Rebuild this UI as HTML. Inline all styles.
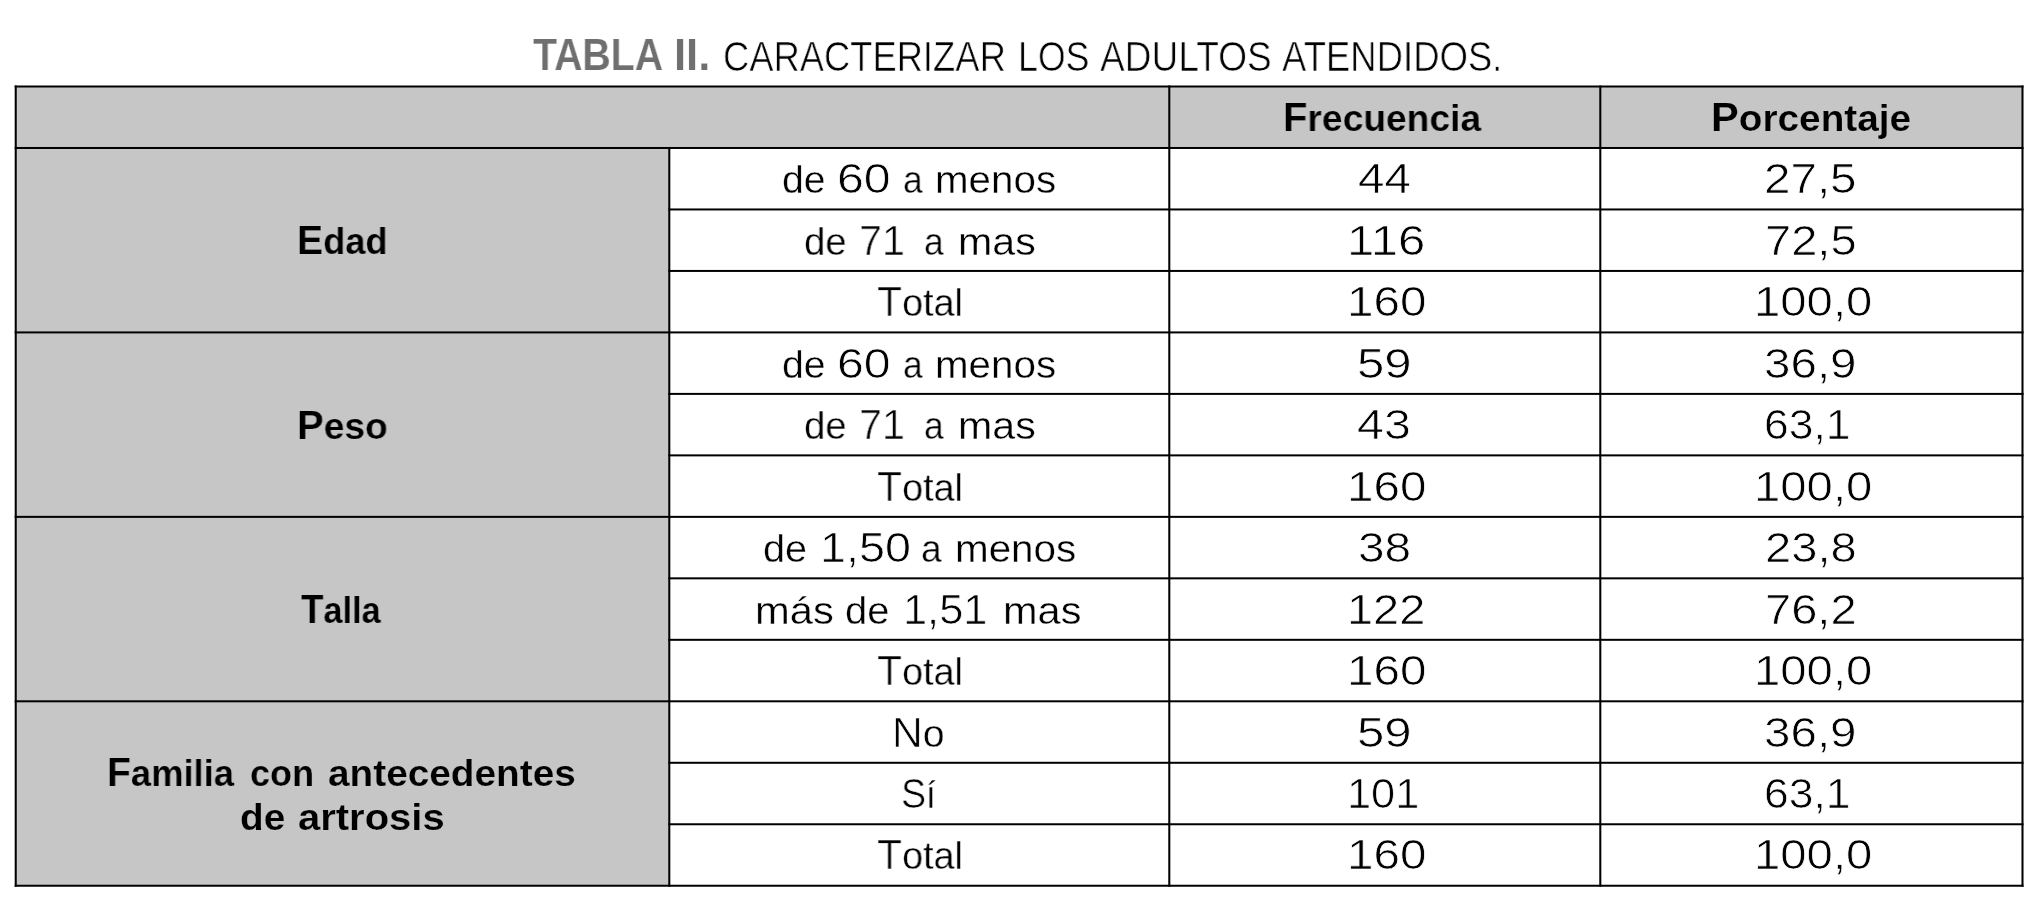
<!DOCTYPE html><html><head><meta charset="utf-8"><style>
html,body{margin:0;padding:0;background:#fff;width:2037px;height:909px;overflow:hidden;position:relative}
.t{position:absolute;white-space:nowrap;font-family:"Liberation Sans",sans-serif;transform-origin:0 0;will-change:transform}
.g{position:absolute;background:#c6c6c6}
.l{position:absolute;background:#000}
</style></head><body>
<svg style="position:absolute;left:0;top:0" width="2037" height="909"><rect x="15.72" y="86.5" width="2006.78" height="61.48" fill="#c6c6c6"/><rect x="15.72" y="147.98" width="653.58" height="737.76" fill="#c6c6c6"/><rect x="14.70" y="85.50" width="2008.83" height="2.0" fill="#000"/><rect x="14.70" y="146.98" width="2008.83" height="2.0" fill="#000"/><rect x="668.27" y="208.46" width="1355.25" height="2.0" fill="#000"/><rect x="668.27" y="269.94" width="1355.25" height="2.0" fill="#000"/><rect x="14.70" y="331.42" width="2008.83" height="2.0" fill="#000"/><rect x="668.27" y="392.90" width="1355.25" height="2.0" fill="#000"/><rect x="668.27" y="454.38" width="1355.25" height="2.0" fill="#000"/><rect x="14.70" y="515.86" width="2008.83" height="2.0" fill="#000"/><rect x="668.27" y="577.34" width="1355.25" height="2.0" fill="#000"/><rect x="668.27" y="638.82" width="1355.25" height="2.0" fill="#000"/><rect x="14.70" y="700.30" width="2008.83" height="2.0" fill="#000"/><rect x="668.27" y="761.78" width="1355.25" height="2.0" fill="#000"/><rect x="668.27" y="823.26" width="1355.25" height="2.0" fill="#000"/><rect x="14.70" y="884.74" width="2008.83" height="2.0" fill="#000"/><rect x="14.70" y="85.50" width="2.05" height="801.24" fill="#000"/><rect x="668.27" y="146.98" width="2.05" height="739.76" fill="#000"/><rect x="1168.27" y="85.50" width="2.05" height="801.24" fill="#000"/><rect x="1599.27" y="85.50" width="2.05" height="801.24" fill="#000"/><rect x="2021.47" y="85.50" width="2.05" height="801.24" fill="#000"/></svg>
<div class="t" style="left:533.20px;top:32.10px;font-size:43.6px;line-height:46px;font-weight:bold;color:#6f6f6f;-webkit-text-stroke:0.2px #fff;transform:scale(0.9004,1.0)">TABLA</div>
<div class="t" style="left:674.25px;top:32.10px;font-size:43.6px;line-height:46px;font-weight:bold;color:#6f6f6f;-webkit-text-stroke:0.2px #fff;transform:scale(1.0000,1.0)">II.</div>
<div class="t" style="left:723.44px;top:33.83px;font-size:42.5px;line-height:46px;font-weight:normal;color:#000;-webkit-text-stroke:0.35px #fff;transform:scale(0.8554,1.0)"><span style="-webkit-text-stroke-width:0.7px">CARACTERIZAR</span></div>
<div class="t" style="left:1017.58px;top:33.83px;font-size:42.5px;line-height:46px;font-weight:normal;color:#000;-webkit-text-stroke:0.35px #fff;transform:scale(0.8381,1.0)"><span style="-webkit-text-stroke-width:0.7px">LOS</span></div>
<div class="t" style="left:1099.82px;top:33.83px;font-size:42.5px;line-height:46px;font-weight:normal;color:#000;-webkit-text-stroke:0.35px #fff;transform:scale(0.8723,1.0)"><span style="-webkit-text-stroke-width:0.7px">ADULTOS</span></div>
<div class="t" style="left:1281.69px;top:33.83px;font-size:42.5px;line-height:46px;font-weight:normal;color:#000;-webkit-text-stroke:0.35px #fff;transform:scale(0.8586,1.0)"><span style="-webkit-text-stroke-width:0.7px">ATENDIDOS.</span></div>
<div class="t" style="left:1283.37px;top:93.80px;font-size:40.7px;line-height:46px;font-weight:bold;color:#000;-webkit-text-stroke:0.2px #c6c6c6;transform:scale(0.9828,1.0)">F<span style="font-size:0.93em">recuencia</span></div>
<div class="t" style="left:1710.50px;top:94.00px;font-size:40.7px;line-height:46px;font-weight:bold;color:#000;-webkit-text-stroke:0.2px #c6c6c6;transform:scale(1.0238,1.0)">P<span style="font-size:0.93em">orcentaje</span></div>
<div class="t" style="left:297.04px;top:216.80px;font-size:40.7px;line-height:46px;font-weight:bold;color:#000;-webkit-text-stroke:0.2px #c6c6c6;transform:scale(0.9603,1.0)">E<span style="font-size:0.93em">dad</span></div>
<div class="t" style="left:297.05px;top:401.80px;font-size:40.7px;line-height:46px;font-weight:bold;color:#000;-webkit-text-stroke:0.2px #c6c6c6;transform:scale(0.9825,1.0)">P<span style="font-size:0.93em">eso</span></div>
<div class="t" style="left:300.76px;top:585.80px;font-size:40.7px;line-height:46px;font-weight:bold;color:#000;-webkit-text-stroke:0.2px #c6c6c6;transform:scale(0.9039,1.0)">T<span style="font-size:0.93em">alla</span></div>
<div class="t" style="left:107.49px;top:748.50px;font-size:40.7px;line-height:46px;font-weight:bold;color:#000;-webkit-text-stroke:0.2px #c6c6c6;transform:scale(0.9618,1.0)">F<span style="font-size:0.93em">amilia</span></div>
<div class="t" style="left:249.70px;top:748.50px;font-size:40.7px;line-height:46px;font-weight:bold;color:#000;-webkit-text-stroke:0.2px #c6c6c6;transform:scale(0.9509,1.0)"><span style="font-size:0.93em">con</span></div>
<div class="t" style="left:327.90px;top:748.50px;font-size:40.7px;line-height:46px;font-weight:bold;color:#000;-webkit-text-stroke:0.2px #c6c6c6;transform:scale(1.0246,1.0)"><span style="font-size:0.93em">antecedentes</span></div>
<div class="t" style="left:239.84px;top:793.00px;font-size:40.7px;line-height:46px;font-weight:bold;color:#000;-webkit-text-stroke:0.2px #c6c6c6;transform:scale(1.0240,1.0)"><span style="font-size:0.93em">de</span></div>
<div class="t" style="left:297.64px;top:793.00px;font-size:40.7px;line-height:46px;font-weight:bold;color:#000;-webkit-text-stroke:0.2px #c6c6c6;transform:scale(1.0568,1.0)"><span style="font-size:0.93em">artrosis</span></div>
<div class="t" style="left:781.56px;top:156.39px;font-size:42.5px;line-height:46px;font-weight:normal;color:#000;-webkit-text-stroke:0.35px #fff;transform:scale(1.0034,1.0)"><span style="font-size:0.92em">de</span></div>
<div class="t" style="left:836.96px;top:156.39px;font-size:42.5px;line-height:46px;font-weight:normal;color:#000;-webkit-text-stroke:0.35px #fff;transform:scale(1.1362,1.0)"><span style="-webkit-text-stroke-width:0.7px">60</span></div>
<div class="t" style="left:902.99px;top:156.39px;font-size:42.5px;line-height:46px;font-weight:normal;color:#000;-webkit-text-stroke:0.35px #fff;transform:scale(0.9055,1.0)"><span style="font-size:0.92em">a</span></div>
<div class="t" style="left:935.42px;top:156.39px;font-size:42.5px;line-height:46px;font-weight:normal;color:#000;-webkit-text-stroke:0.35px #fff;transform:scale(1.0321,1.0)"><span style="font-size:0.92em">menos</span></div>
<div class="t" style="left:1357.64px;top:156.39px;font-size:42.5px;line-height:46px;font-weight:normal;color:#000;-webkit-text-stroke:0.35px #fff;transform:scale(1.1201,1.0)"><span style="-webkit-text-stroke-width:0.7px">44</span></div>
<div class="t" style="left:1764.40px;top:156.39px;font-size:42.5px;line-height:46px;font-weight:normal;color:#000;-webkit-text-stroke:0.35px #fff;transform:scale(1.1189,1.0)"><span style="-webkit-text-stroke-width:0.7px">27,5</span></div>
<div class="t" style="left:803.89px;top:217.85px;font-size:42.5px;line-height:46px;font-weight:normal;color:#000;-webkit-text-stroke:0.35px #fff;transform:scale(0.9792,1.0)"><span style="font-size:0.92em">de</span></div>
<div class="t" style="left:859.14px;top:217.85px;font-size:42.5px;line-height:46px;font-weight:normal;color:#000;-webkit-text-stroke:0.35px #fff;transform:scale(0.9676,1.0)"><span style="-webkit-text-stroke-width:0.7px">71</span></div>
<div class="t" style="left:924.00px;top:217.85px;font-size:42.5px;line-height:46px;font-weight:normal;color:#000;-webkit-text-stroke:0.35px #fff;transform:scale(0.9055,1.0)"><span style="font-size:0.92em">a</span></div>
<div class="t" style="left:958.12px;top:217.85px;font-size:42.5px;line-height:46px;font-weight:normal;color:#000;-webkit-text-stroke:0.35px #fff;transform:scale(1.0525,1.0)"><span style="font-size:0.92em">mas</span></div>
<div class="t" style="left:1346.57px;top:217.85px;font-size:42.5px;line-height:46px;font-weight:normal;color:#000;-webkit-text-stroke:0.35px #fff;transform:scale(1.1545,1.0)"><span style="-webkit-text-stroke-width:0.7px">116</span></div>
<div class="t" style="left:1765.37px;top:217.85px;font-size:42.5px;line-height:46px;font-weight:normal;color:#000;-webkit-text-stroke:0.35px #fff;transform:scale(1.1070,1.0)"><span style="-webkit-text-stroke-width:0.7px">72,5</span></div>
<div class="t" style="left:876.93px;top:279.31px;font-size:42.5px;line-height:46px;font-weight:normal;color:#000;-webkit-text-stroke:0.35px #fff;transform:scale(0.9656,1.0)"><span style="-webkit-text-stroke-width:0.7px">T</span><span style="font-size:0.92em">otal</span></div>
<div class="t" style="left:1346.59px;top:279.31px;font-size:42.5px;line-height:46px;font-weight:normal;color:#000;-webkit-text-stroke:0.35px #fff;transform:scale(1.1200,1.0)"><span style="-webkit-text-stroke-width:0.7px">160</span></div>
<div class="t" style="left:1753.74px;top:279.31px;font-size:42.5px;line-height:46px;font-weight:normal;color:#000;-webkit-text-stroke:0.35px #fff;transform:scale(1.1127,1.0)"><span style="-webkit-text-stroke-width:0.7px">100,0</span></div>
<div class="t" style="left:781.56px;top:340.77px;font-size:42.5px;line-height:46px;font-weight:normal;color:#000;-webkit-text-stroke:0.35px #fff;transform:scale(1.0034,1.0)"><span style="font-size:0.92em">de</span></div>
<div class="t" style="left:836.96px;top:340.77px;font-size:42.5px;line-height:46px;font-weight:normal;color:#000;-webkit-text-stroke:0.35px #fff;transform:scale(1.1362,1.0)"><span style="-webkit-text-stroke-width:0.7px">60</span></div>
<div class="t" style="left:902.99px;top:340.77px;font-size:42.5px;line-height:46px;font-weight:normal;color:#000;-webkit-text-stroke:0.35px #fff;transform:scale(0.9055,1.0)"><span style="font-size:0.92em">a</span></div>
<div class="t" style="left:935.42px;top:340.77px;font-size:42.5px;line-height:46px;font-weight:normal;color:#000;-webkit-text-stroke:0.35px #fff;transform:scale(1.0321,1.0)"><span style="font-size:0.92em">menos</span></div>
<div class="t" style="left:1357.20px;top:340.77px;font-size:42.5px;line-height:46px;font-weight:normal;color:#000;-webkit-text-stroke:0.35px #fff;transform:scale(1.1549,1.0)"><span style="-webkit-text-stroke-width:0.7px">59</span></div>
<div class="t" style="left:1764.36px;top:340.77px;font-size:42.5px;line-height:46px;font-weight:normal;color:#000;-webkit-text-stroke:0.35px #fff;transform:scale(1.1191,1.0)"><span style="-webkit-text-stroke-width:0.7px">36,9</span></div>
<div class="t" style="left:803.89px;top:402.24px;font-size:42.5px;line-height:46px;font-weight:normal;color:#000;-webkit-text-stroke:0.35px #fff;transform:scale(0.9792,1.0)"><span style="font-size:0.92em">de</span></div>
<div class="t" style="left:859.14px;top:402.24px;font-size:42.5px;line-height:46px;font-weight:normal;color:#000;-webkit-text-stroke:0.35px #fff;transform:scale(0.9676,1.0)"><span style="-webkit-text-stroke-width:0.7px">71</span></div>
<div class="t" style="left:924.00px;top:402.24px;font-size:42.5px;line-height:46px;font-weight:normal;color:#000;-webkit-text-stroke:0.35px #fff;transform:scale(0.9055,1.0)"><span style="font-size:0.92em">a</span></div>
<div class="t" style="left:958.12px;top:402.24px;font-size:42.5px;line-height:46px;font-weight:normal;color:#000;-webkit-text-stroke:0.35px #fff;transform:scale(1.0525,1.0)"><span style="font-size:0.92em">mas</span></div>
<div class="t" style="left:1357.48px;top:402.24px;font-size:42.5px;line-height:46px;font-weight:normal;color:#000;-webkit-text-stroke:0.35px #fff;transform:scale(1.1372,1.0)"><span style="-webkit-text-stroke-width:0.7px">43</span></div>
<div class="t" style="left:1764.39px;top:402.24px;font-size:42.5px;line-height:46px;font-weight:normal;color:#000;-webkit-text-stroke:0.35px #fff;transform:scale(1.0465,1.0)"><span style="-webkit-text-stroke-width:0.7px">63,1</span></div>
<div class="t" style="left:876.93px;top:463.70px;font-size:42.5px;line-height:46px;font-weight:normal;color:#000;-webkit-text-stroke:0.35px #fff;transform:scale(0.9656,1.0)"><span style="-webkit-text-stroke-width:0.7px">T</span><span style="font-size:0.92em">otal</span></div>
<div class="t" style="left:1346.59px;top:463.70px;font-size:42.5px;line-height:46px;font-weight:normal;color:#000;-webkit-text-stroke:0.35px #fff;transform:scale(1.1200,1.0)"><span style="-webkit-text-stroke-width:0.7px">160</span></div>
<div class="t" style="left:1753.74px;top:463.70px;font-size:42.5px;line-height:46px;font-weight:normal;color:#000;-webkit-text-stroke:0.35px #fff;transform:scale(1.1127,1.0)"><span style="-webkit-text-stroke-width:0.7px">100,0</span></div>
<div class="t" style="left:763.08px;top:525.16px;font-size:42.5px;line-height:46px;font-weight:normal;color:#000;-webkit-text-stroke:0.35px #fff;transform:scale(1.0148,1.0)"><span style="font-size:0.92em">de</span></div>
<div class="t" style="left:820.07px;top:525.16px;font-size:42.5px;line-height:46px;font-weight:normal;color:#000;-webkit-text-stroke:0.35px #fff;transform:scale(1.0989,1.0)"><span style="-webkit-text-stroke-width:0.7px">1,50</span></div>
<div class="t" style="left:921.36px;top:525.16px;font-size:42.5px;line-height:46px;font-weight:normal;color:#000;-webkit-text-stroke:0.35px #fff;transform:scale(0.9506,1.0)"><span style="font-size:0.92em">a</span></div>
<div class="t" style="left:954.98px;top:525.16px;font-size:42.5px;line-height:46px;font-weight:normal;color:#000;-webkit-text-stroke:0.35px #fff;transform:scale(1.0337,1.0)"><span style="font-size:0.92em">menos</span></div>
<div class="t" style="left:1358.19px;top:525.16px;font-size:42.5px;line-height:46px;font-weight:normal;color:#000;-webkit-text-stroke:0.35px #fff;transform:scale(1.1246,1.0)"><span style="-webkit-text-stroke-width:0.7px">38</span></div>
<div class="t" style="left:1765.26px;top:525.16px;font-size:42.5px;line-height:46px;font-weight:normal;color:#000;-webkit-text-stroke:0.35px #fff;transform:scale(1.1091,1.0)"><span style="-webkit-text-stroke-width:0.7px">23,8</span></div>
<div class="t" style="left:754.91px;top:586.62px;font-size:42.5px;line-height:46px;font-weight:normal;color:#000;-webkit-text-stroke:0.35px #fff;transform:scale(1.0674,1.0)"><span style="font-size:0.92em">más</span></div>
<div class="t" style="left:845.24px;top:586.62px;font-size:42.5px;line-height:46px;font-weight:normal;color:#000;-webkit-text-stroke:0.35px #fff;transform:scale(1.0205,1.0)"><span style="font-size:0.92em">de</span></div>
<div class="t" style="left:902.82px;top:586.62px;font-size:42.5px;line-height:46px;font-weight:normal;color:#000;-webkit-text-stroke:0.35px #fff;transform:scale(1.0204,1.0)"><span style="-webkit-text-stroke-width:0.7px">1,51</span></div>
<div class="t" style="left:1003.15px;top:586.62px;font-size:42.5px;line-height:46px;font-weight:normal;color:#000;-webkit-text-stroke:0.35px #fff;transform:scale(1.0616,1.0)"><span style="font-size:0.92em">mas</span></div>
<div class="t" style="left:1346.56px;top:586.62px;font-size:42.5px;line-height:46px;font-weight:normal;color:#000;-webkit-text-stroke:0.35px #fff;transform:scale(1.1044,1.0)"><span style="-webkit-text-stroke-width:0.7px">122</span></div>
<div class="t" style="left:1765.39px;top:586.62px;font-size:42.5px;line-height:46px;font-weight:normal;color:#000;-webkit-text-stroke:0.35px #fff;transform:scale(1.1071,1.0)"><span style="-webkit-text-stroke-width:0.7px">76,2</span></div>
<div class="t" style="left:876.93px;top:648.08px;font-size:42.5px;line-height:46px;font-weight:normal;color:#000;-webkit-text-stroke:0.35px #fff;transform:scale(0.9656,1.0)"><span style="-webkit-text-stroke-width:0.7px">T</span><span style="font-size:0.92em">otal</span></div>
<div class="t" style="left:1346.59px;top:648.08px;font-size:42.5px;line-height:46px;font-weight:normal;color:#000;-webkit-text-stroke:0.35px #fff;transform:scale(1.1200,1.0)"><span style="-webkit-text-stroke-width:0.7px">160</span></div>
<div class="t" style="left:1753.74px;top:648.08px;font-size:42.5px;line-height:46px;font-weight:normal;color:#000;-webkit-text-stroke:0.35px #fff;transform:scale(1.1127,1.0)"><span style="-webkit-text-stroke-width:0.7px">100,0</span></div>
<div class="t" style="left:891.88px;top:709.54px;font-size:42.5px;line-height:46px;font-weight:normal;color:#000;-webkit-text-stroke:0.35px #fff;transform:scale(1.0032,1.0)"><span style="-webkit-text-stroke-width:0.7px">N</span><span style="font-size:0.92em">o</span></div>
<div class="t" style="left:1357.20px;top:709.54px;font-size:42.5px;line-height:46px;font-weight:normal;color:#000;-webkit-text-stroke:0.35px #fff;transform:scale(1.1549,1.0)"><span style="-webkit-text-stroke-width:0.7px">59</span></div>
<div class="t" style="left:1764.36px;top:709.54px;font-size:42.5px;line-height:46px;font-weight:normal;color:#000;-webkit-text-stroke:0.35px #fff;transform:scale(1.1191,1.0)"><span style="-webkit-text-stroke-width:0.7px">36,9</span></div>
<div class="t" style="left:900.94px;top:771.00px;font-size:42.5px;line-height:46px;font-weight:normal;color:#000;-webkit-text-stroke:0.35px #fff;transform:scale(0.8878,1.0)"><span style="-webkit-text-stroke-width:0.7px">S</span><span style="font-size:0.92em">í</span></div>
<div class="t" style="left:1346.59px;top:771.00px;font-size:42.5px;line-height:46px;font-weight:normal;color:#000;-webkit-text-stroke:0.35px #fff;transform:scale(1.0192,1.0)"><span style="-webkit-text-stroke-width:0.7px">101</span></div>
<div class="t" style="left:1764.39px;top:771.00px;font-size:42.5px;line-height:46px;font-weight:normal;color:#000;-webkit-text-stroke:0.35px #fff;transform:scale(1.0465,1.0)"><span style="-webkit-text-stroke-width:0.7px">63,1</span></div>
<div class="t" style="left:876.93px;top:832.47px;font-size:42.5px;line-height:46px;font-weight:normal;color:#000;-webkit-text-stroke:0.35px #fff;transform:scale(0.9656,1.0)"><span style="-webkit-text-stroke-width:0.7px">T</span><span style="font-size:0.92em">otal</span></div>
<div class="t" style="left:1346.59px;top:832.47px;font-size:42.5px;line-height:46px;font-weight:normal;color:#000;-webkit-text-stroke:0.35px #fff;transform:scale(1.1200,1.0)"><span style="-webkit-text-stroke-width:0.7px">160</span></div>
<div class="t" style="left:1753.74px;top:832.47px;font-size:42.5px;line-height:46px;font-weight:normal;color:#000;-webkit-text-stroke:0.35px #fff;transform:scale(1.1127,1.0)"><span style="-webkit-text-stroke-width:0.7px">100,0</span></div>
</body></html>
